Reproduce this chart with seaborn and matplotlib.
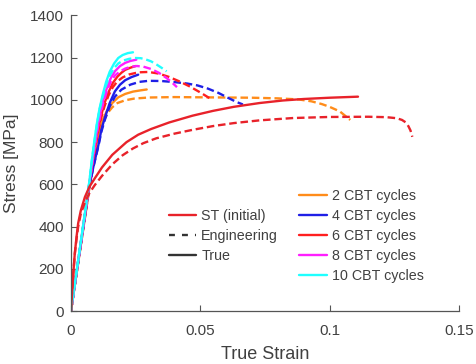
import matplotlib
matplotlib.use("Agg")
import matplotlib.pyplot as plt
from matplotlib.lines import Line2D
import seaborn as sns

# ---------------- data ----------------
st_true_x = [0, 0.0008, 0.0015, 0.0022, 0.0028, 0.0038, 0.0054, 0.0072, 0.0093, 0.012, 0.016, 0.0215,
             0.026, 0.031, 0.038, 0.047, 0.055, 0.063, 0.073, 0.082, 0.09, 0.1, 0.111]
st_true_y = [0, 160, 274, 355, 416, 475, 540, 590, 630, 680, 740, 800,
             835, 862, 893, 925, 948, 967, 985, 997, 1004, 1010, 1015]
st_eng_x = [0, 0.0008, 0.0015, 0.0022, 0.0028, 0.0038, 0.0054, 0.0072, 0.0093, 0.012, 0.016, 0.02,
            0.024, 0.028, 0.033, 0.04, 0.047, 0.055, 0.063, 0.073, 0.086, 0.1, 0.115, 0.122,
            0.126, 0.128, 0.1295, 0.1305, 0.1313, 0.132]
st_eng_y = [0, 160, 270, 345, 400, 460, 515, 560, 598, 640, 695, 738,
            770, 795, 818, 840, 858, 876, 890, 903, 914, 919, 920, 918,
            913, 905, 893, 875, 855, 825]

c2_true_x = [0, 0.0071, 0.0085, 0.0099, 0.0112, 0.0125, 0.014, 0.016, 0.0183, 0.021, 0.024, 0.027, 0.0293]
c2_true_y = [0, 580, 700, 800, 865, 910, 950, 985, 1012, 1028, 1039, 1045, 1049]
c2_eng_x = [0, 0.0071, 0.0085, 0.0099, 0.0112, 0.0125, 0.014, 0.016, 0.018, 0.021, 0.0245, 0.03, 0.04,
            0.05, 0.06, 0.07, 0.08, 0.088, 0.093, 0.097, 0.1, 0.104, 0.108]
c2_eng_y = [0, 580, 695, 790, 850, 895, 935, 965, 985, 998, 1006, 1011, 1013,
            1012, 1011, 1010, 1007, 1002, 993, 980, 967, 945, 905]

c4_true_x = [0, 0.0071, 0.0088, 0.0106, 0.0118, 0.0131, 0.015, 0.017, 0.019, 0.021, 0.0235, 0.026]
c4_true_y = [0, 590, 690, 785, 860, 915, 985, 1040, 1072, 1093, 1108, 1119]
c4_eng_x = [0, 0.0071, 0.0088, 0.0106, 0.0118, 0.0131, 0.015, 0.017, 0.0195, 0.023, 0.0265, 0.03,
            0.035, 0.04, 0.045, 0.049, 0.053, 0.057, 0.061, 0.064, 0.0665]
c4_eng_y = [0, 590, 688, 780, 850, 905, 970, 1015, 1048, 1072, 1085, 1090,
            1089, 1084, 1077, 1068, 1053, 1033, 1008, 990, 978]

c6_true_x = [0, 0.0071, 0.0084, 0.0095, 0.0106, 0.0117, 0.013, 0.0145, 0.0162, 0.018, 0.0195, 0.021, 0.023, 0.025]
c6_true_y = [0, 600, 710, 790, 865, 925, 985, 1035, 1080, 1110, 1128, 1142, 1152, 1160]
c6_eng_x = [0, 0.0071, 0.0084, 0.0095, 0.0106, 0.0117, 0.013, 0.0145, 0.0162, 0.018, 0.02, 0.0225,
            0.026, 0.03, 0.034, 0.038, 0.042, 0.046, 0.05, 0.054]
c6_eng_y = [0, 600, 708, 785, 855, 915, 970, 1020, 1060, 1088, 1106, 1120,
            1130, 1132, 1124, 1108, 1087, 1063, 1035, 1005]

c8_true_x = [0, 0.0071, 0.0082, 0.0092, 0.0103, 0.0113, 0.0125, 0.014, 0.0155, 0.017, 0.019, 0.021, 0.023, 0.0253]
c8_true_y = [0, 600, 700, 785, 870, 935, 1000, 1060, 1105, 1135, 1160, 1175, 1184, 1190]
c8_eng_x = [0, 0.0071, 0.0082, 0.0092, 0.0103, 0.0113, 0.0125, 0.014, 0.0155, 0.017, 0.019, 0.021,
            0.023, 0.0255, 0.028, 0.031, 0.034, 0.037, 0.039, 0.041]
c8_eng_y = [0, 600, 698, 782, 862, 925, 985, 1045, 1088, 1115, 1135, 1148,
            1156, 1160, 1157, 1146, 1128, 1103, 1083, 1060]

c10_true_x = [0, 0.0071, 0.008, 0.009, 0.01, 0.011, 0.0123, 0.0136, 0.015, 0.0167, 0.0183, 0.02, 0.022, 0.024]
c10_true_y = [0, 610, 705, 800, 885, 955, 1025, 1085, 1133, 1172, 1198, 1212, 1221, 1225]
c10_eng_x = [0, 0.0071, 0.008, 0.009, 0.01, 0.011, 0.0123, 0.0136, 0.015, 0.0167, 0.0183, 0.02,
             0.0225, 0.025, 0.027, 0.029, 0.031, 0.033, 0.035, 0.037]
c10_eng_y = [0, 610, 703, 795, 878, 950, 1015, 1070, 1115, 1150, 1172, 1185,
             1194, 1198, 1197, 1191, 1182, 1168, 1152, 1135]

cbt_labels = ["2 CBT cycles", "4 CBT cycles", "6 CBT cycles", "8 CBT cycles", "10 CBT cycles"]
st_label = "ST (initial)"
style_labels = ["Engineering", "True"]
x_ticks = [0, 0.05, 0.1, 0.15]
x_tick_labels = ["0", "0.05", "0.1", "0.15"]
y_ticks = [0, 200, 400, 600, 800, 1000, 1200, 1400]

# ---------------- styling ----------------
sns.set_style("ticks")
plt.rcParams["font.family"] = ["Liberation Sans", "DejaVu Sans"]
text_col = "#404040"

colors = {"2 CBT cycles": "#ff8c1a", "4 CBT cycles": "#1f1fe6", "6 CBT cycles": "#ff1f1f",
          "8 CBT cycles": "#ff1fff", "10 CBT cycles": "#1fffff"}
st_color = "#e8222a"
lw = 1.7
dash = (0, (3.2, 1.6))

fig = plt.figure(figsize=(4.76, 3.64), dpi=100)
ax = fig.add_axes([0.149, 0.145, 0.815, 0.813])

cbt_data = [
    (c2_true_x, c2_true_y, c2_eng_x, c2_eng_y),
    (c4_true_x, c4_true_y, c4_eng_x, c4_eng_y),
    (c6_true_x, c6_true_y, c6_eng_x, c6_eng_y),
    (c8_true_x, c8_true_y, c8_eng_x, c8_eng_y),
    (c10_true_x, c10_true_y, c10_eng_x, c10_eng_y),
]

for lab, (tx, ty, ex, ey) in zip(cbt_labels, cbt_data):
    col = colors[lab]
    sns.lineplot(x=ex, y=ey, ax=ax, color=col, lw=lw, linestyle=dash,
                 estimator=None, sort=False)
    sns.lineplot(x=tx, y=ty, ax=ax, color=col, lw=lw, estimator=None, sort=False)

sns.lineplot(x=st_eng_x, y=st_eng_y, ax=ax, color=st_color, lw=lw, linestyle=dash,
             estimator=None, sort=False)
sns.lineplot(x=st_true_x, y=st_true_y, ax=ax, color=st_color, lw=lw, estimator=None, sort=False)

ax.set_xlim(0, 0.15)
ax.set_ylim(0, 1400)
ax.set_xticks(x_ticks)
ax.set_xticklabels(x_tick_labels)
ax.set_yticks(y_ticks)
ax.tick_params(direction="in", length=4, width=0.8, colors="#555555", labelcolor=text_col,
               labelsize=11)
ax.tick_params(axis="x", pad=9)
ax.tick_params(axis="y", pad=5)
for s in ["top", "right"]:
    ax.spines[s].set_visible(False)
for s in ["left", "bottom"]:
    ax.spines[s].set_color("#555555")
    ax.spines[s].set_linewidth(0.9)
ax.set_xlabel("True Strain", fontsize=13, color=text_col, labelpad=6)
ax.set_ylabel("Stress [MPa]", fontsize=12.5, color=text_col, labelpad=8)

# legends
h_left = [Line2D([], [], color=st_color, lw=lw),
          Line2D([], [], color="#333333", lw=lw, linestyle=(0, (2.5, 3))),
          Line2D([], [], color="#333333", lw=lw)]
leg1 = ax.legend(h_left, [st_label] + style_labels, loc="upper left",
                 bbox_to_anchor=(0.253, 0.345), frameon=False, fontsize=10.3,
                 handlelength=1.9, handletextpad=0.35, labelspacing=0.42,
                 borderpad=0, borderaxespad=0, labelcolor=text_col)
ax.add_artist(leg1)
h_right = [Line2D([], [], color=colors[l], lw=lw) for l in cbt_labels]
ax.legend(h_right, cbt_labels, loc="upper left", bbox_to_anchor=(0.589, 0.412),
          frameon=False, fontsize=10.3, handlelength=1.9, handletextpad=0.35,
          labelspacing=0.42, borderpad=0, borderaxespad=0, labelcolor=text_col)

fig.savefig("out.png", dpi=100)
